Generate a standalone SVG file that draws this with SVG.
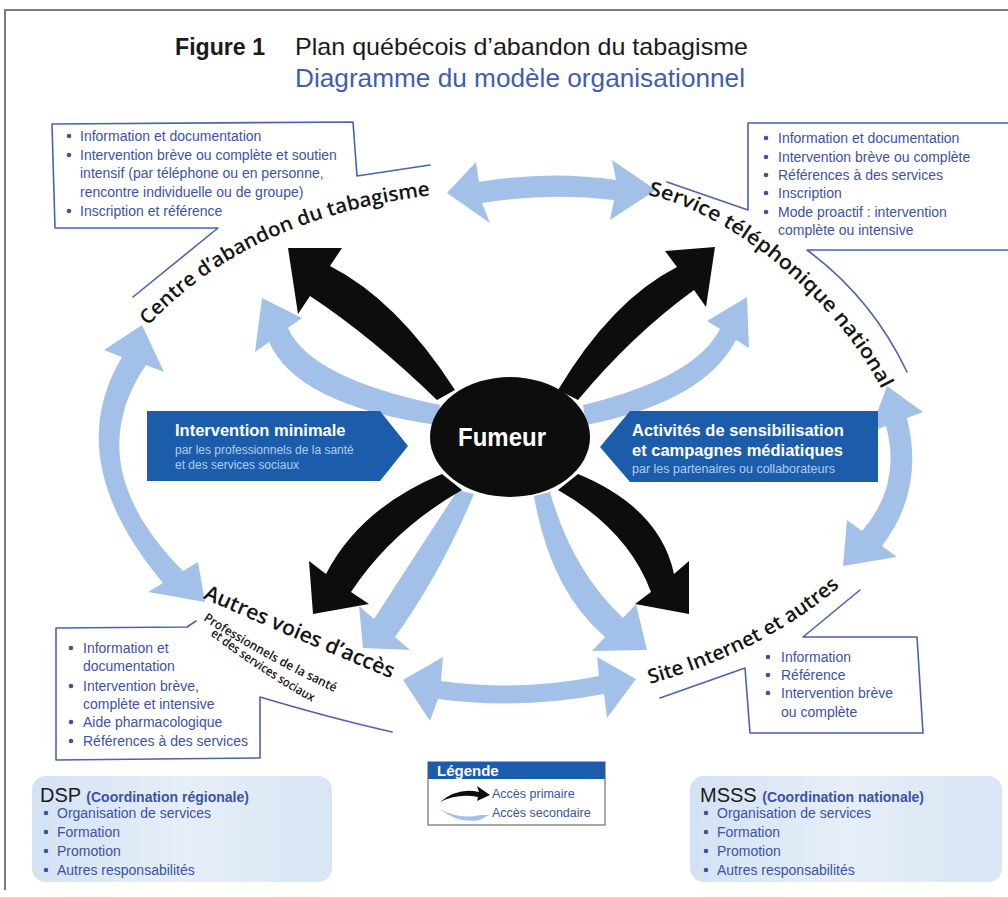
<svg xmlns="http://www.w3.org/2000/svg" width="1008" height="897" viewBox="0 0 1008 897">
<defs>
<style>
.frame{fill:none;stroke:#7a7a7a;stroke-width:2}
.sans{font-family:"Liberation Sans",Arial,sans-serif}
.lbl{font-family:"Open Sans","Liberation Sans",sans-serif;font-weight:600;fill:#141414}
.call{fill:none;stroke:#4b62ad;stroke-width:1.6;stroke-linejoin:round;stroke-linecap:round}
.prim{fill:#0d0d0d}
.sec{fill:#a3c1e8}
.pent{fill:#1b5cab}
.wt{fill:#ffffff;font-weight:bold}
.lt{fill:#b3cdf0}
.bul{font-family:"Liberation Sans",Arial,sans-serif;font-size:14px;fill:#3c52a3}
.dot{fill:#3c52a3}
</style>
<linearGradient id="panel" x1="0" y1="0" x2="1" y2="0">
<stop offset="0" stop-color="#d3e2f3"/>
<stop offset="0.5" stop-color="#e6eef8"/>
<stop offset="1" stop-color="#d8e5f4"/>
</linearGradient>
<path id="pTL" d="M148,326 Q250,215 442,194"/>
<path id="pTR" d="M648,195 C728,212 835,297 882,390"/>
<path id="pBL" d="M203,598 Q290,637 402,683"/>
<path id="pBL2" d="M203,620 Q275,666 352,700"/>
<path id="pBL3" d="M210,635 Q268,679 330,712"/>
<path id="pBR" d="M650,684 Q770,650 848,579"/>
</defs>

<rect x="0" y="0" width="1008" height="897" fill="#ffffff"/>
<path class="frame" d="M5,890 V10 H1008"/>

<g id="title" class="sans">
<text x="175" y="55" font-size="24" font-weight="bold" fill="#1a1a1a" textLength="90" lengthAdjust="spacingAndGlyphs">Figure 1</text>
<text x="295" y="55" font-size="24" fill="#1a1a1a" textLength="453" lengthAdjust="spacingAndGlyphs">Plan québécois d’abandon du tabagisme</text>
<text x="295" y="87" font-size="26" fill="#3d5fae" textLength="450" lengthAdjust="spacingAndGlyphs">Diagramme du modèle organisationnel</text>
</g>

<g id="connectors">
<!-- secondary (light) arrows -->
<path class="sec" d="M447,193 L476,162 L479,182 Q550,170 616,180 L612,160 L656,190 L610,220 L614,200 Q550,192 482,203 L490,223 Z"/>
<path class="sec" d="M403,680 L443,657 L441,681 Q520,692 599,676 L597,657 L636,679 L607,718 L604,694 Q520,710 438,699 L430,721 Z"/>
<path class="sec" d="M142,325 L164,372 L146,365 Q78,465 183,571 L198,562 L205,602 L148,592 L163,583 Q60,460 122,357 L104,350 Z"/>
<path class="sec" d="M887,386 L923,412 L907,418 Q925,490 882,546 L897,557 L843,566 L847,520 L862,531 Q902,485 886,426 L870,432 Z"/>
<path class="sec" d="M262,298 L302,318 L288,328 Q310,378 440,405 L437,425 Q297,405 269,342 L255,352 Z"/>
<path class="sec" d="M747,297 L749,348 L736,340 Q704,402 586,425 L583,405 Q695,378 720,329 L707,321 Z"/>
<path class="sec" d="M363,648 L359,606 L374,619 Q412,560 458,490 L474,494 Q440,575 395,637 L410,650 Z"/>
<path class="sec" d="M647,650 L592,651 L605,637 Q550,590 534,496 L550,492 Q572,570 623,618 L636,604 Z"/>
<!-- primary (black) arrows -->
<path class="prim" d="M288,248 L342,248 L330,266 Q397,300 455,390 L437,400 Q372,337 310,296 L298,314 Z"/>
<path class="prim" d="M715,247 L665,251 L677,267 Q612,300 558,390 L578,400 Q632,335 694,290 L706,307 Z"/>
<path class="prim" d="M313,614 L309,561 L326,574 Q360,508 442,474 L462,490 Q392,530 351,592 L369,604 Z"/>
<path class="prim" d="M689,614 L689,561 L674,574 Q660,508 578,474 L558,490 Q628,530 651,592 L635,604 Z"/>
</g>

<g id="fumeur">
<ellipse cx="510" cy="437" rx="80" ry="60" fill="#0d0d0d"/>
<text x="502" y="446" class="sans wt" font-size="26" text-anchor="middle" textLength="88" lengthAdjust="spacingAndGlyphs">Fumeur</text>
</g>

<g id="intervention-minimale">
<path class="pent" d="M147,411 L380,411 L408,446 L380,481 L147,481 Z"/>
<text x="175" y="436" class="sans wt" font-size="16.5">Intervention minimale</text>
<text x="175" y="454" class="sans lt" font-size="12">par les professionnels de la santé</text>
<text x="175" y="469" class="sans lt" font-size="12">et des services sociaux</text>
</g>

<g id="sensibilisation">
<path class="pent" d="M600,447 L630,411 L878,411 L878,482 L630,482 Z"/>
<text x="632" y="436" class="sans wt" font-size="16.5">Activités de sensibilisation</text>
<text x="632" y="456" class="sans wt" font-size="16.5">et campagnes médiatiques</text>
<text x="632" y="473" class="sans lt" font-size="12.5">par les partenaires ou collaborateurs</text>
</g>

<g id="centre-abandon">
<path class="call" d="M430,165 L357,176 L353,122 L52,124 L55,228 L218,228 L133,297"/>
<text class="lbl" font-size="20"><textPath href="#pTL" textLength="318" lengthAdjust="spacingAndGlyphs">Centre d’abandon du tabagisme</textPath></text>
<circle class="dot" cx="69" cy="136" r="2.3"/>
<circle class="dot" cx="69" cy="155" r="2.3"/>
<circle class="dot" cx="69" cy="211" r="2.3"/>
<text class="bul" x="80" y="141">Information et documentation</text>
<text class="bul" x="80" y="160">Intervention brève ou complète et soutien</text>
<text class="bul" x="80" y="178">intensif (par téléphone ou en personne,</text>
<text class="bul" x="80" y="197">rencontre individuelle ou de groupe)</text>
<text class="bul" x="80" y="216">Inscription et référence</text>
</g>

<g id="service-telephonique">
<path class="call" d="M667,182 L748,210 L748,123 L1008,123 M1008,250 L807,250 Q872,298 907,372"/>
<text class="lbl" font-size="20"><textPath href="#pTR" textLength="312" lengthAdjust="spacingAndGlyphs">Service téléphonique national</textPath></text>
<circle class="dot" cx="766" cy="138" r="2.3"/>
<circle class="dot" cx="766" cy="157" r="2.3"/>
<circle class="dot" cx="766" cy="175" r="2.3"/>
<circle class="dot" cx="766" cy="193" r="2.3"/>
<circle class="dot" cx="766" cy="212" r="2.3"/>
<text class="bul" x="778" y="143">Information et documentation</text>
<text class="bul" x="778" y="162">Intervention brève ou complète</text>
<text class="bul" x="778" y="180">Références à des services</text>
<text class="bul" x="778" y="198">Inscription</text>
<text class="bul" x="778" y="217">Mode proactif : intervention</text>
<text class="bul" x="778" y="235">complète ou intensive</text>
</g>

<g id="autres-voies">
<path class="call" d="M196,621 L187,627 L56,628 L56,760 L260,758 L260,697 Q330,718 392,732"/>
<text class="lbl" font-size="21"><textPath href="#pBL" textLength="205" lengthAdjust="spacingAndGlyphs">Autres voies d’accès</textPath></text>
<text class="lbl" font-size="12.5" font-weight="normal"><textPath href="#pBL2" textLength="150" lengthAdjust="spacingAndGlyphs">Professionnels de la santé</textPath></text>
<text class="lbl" font-size="12.5" font-weight="normal"><textPath href="#pBL3" textLength="122" lengthAdjust="spacingAndGlyphs">et des services sociaux</textPath></text>
<circle class="dot" cx="71" cy="648" r="2.3"/>
<circle class="dot" cx="71" cy="686" r="2.3"/>
<circle class="dot" cx="71" cy="722" r="2.3"/>
<circle class="dot" cx="71" cy="741" r="2.3"/>
<text class="bul" x="83" y="653" font-size="14.5">Information et</text>
<text class="bul" x="83" y="671" font-size="14.5">documentation</text>
<text class="bul" x="83" y="691" font-size="14.5">Intervention brève,</text>
<text class="bul" x="83" y="709" font-size="14.5">complète et intensive</text>
<text class="bul" x="83" y="727" font-size="14.5">Aide pharmacologique</text>
<text class="bul" x="83" y="746" font-size="14.5">Références à des services</text>
</g>

<g id="site-internet">
<path class="call" d="M860,590 L803,637 L917,637 L923,733 L750,733 L745,668 L660,698"/>
<text class="lbl" font-size="20"><textPath href="#pBR" textLength="215" lengthAdjust="spacingAndGlyphs">Site Internet et autres</textPath></text>
<circle class="dot" cx="768" cy="657" r="2.3"/>
<circle class="dot" cx="768" cy="675" r="2.3"/>
<circle class="dot" cx="768" cy="693" r="2.3"/>
<text class="bul" x="781" y="662" font-size="14.5">Information</text>
<text class="bul" x="781" y="680" font-size="14.5">Référence</text>
<text class="bul" x="781" y="698" font-size="14.5">Intervention brève</text>
<text class="bul" x="781" y="717" font-size="14.5">ou complète</text>
</g>

<g id="legende">
<rect x="428" y="762" width="177" height="63" fill="#ffffff" stroke="#555" stroke-width="1"/>
<rect x="428" y="762" width="177" height="17" class="pent"/>
<text x="437" y="776" class="sans wt" font-size="15">Légende</text>
<path class="prim" d="M440,802 Q458,787 479,792 L477,786 L490,795 L477,801 L478,797 Q458,793 440,802 Z"/>
<path class="sec" d="M440,809 Q460,820 480,815 L489,815 L480,820 Q458,824 440,809 Z"/>
<text x="492" y="798" class="sans" font-size="12.5" fill="#3c52a3">Accès primaire</text>
<text x="492" y="817" class="sans" font-size="12.5" fill="#3c52a3">Accès secondaire</text>
</g>

<g id="dsp">
<rect x="32" y="776" width="300" height="106" rx="14" fill="url(#panel)"/>
<text x="40" y="802" class="sans" font-size="20" fill="#1a1a1a">DSP <tspan font-size="14" font-weight="bold" fill="#3c52a3">(Coordination régionale)</tspan></text>
<circle class="dot" cx="46" cy="813" r="2.3"/>
<circle class="dot" cx="46" cy="832" r="2.3"/>
<circle class="dot" cx="46" cy="851" r="2.3"/>
<circle class="dot" cx="46" cy="870" r="2.3"/>
<text class="bul" x="57" y="818" font-size="15">Organisation de services</text>
<text class="bul" x="57" y="837" font-size="15">Formation</text>
<text class="bul" x="57" y="856" font-size="15">Promotion</text>
<text class="bul" x="57" y="875" font-size="15">Autres responsabilités</text>
</g>

<g id="msss">
<rect x="690" y="776" width="312" height="106" rx="14" fill="url(#panel)"/>
<text x="700" y="802" class="sans" font-size="20" fill="#1a1a1a">MSSS <tspan font-size="14" font-weight="bold" fill="#3c52a3">(Coordination nationale)</tspan></text>
<circle class="dot" cx="706" cy="813" r="2.3"/>
<circle class="dot" cx="706" cy="832" r="2.3"/>
<circle class="dot" cx="706" cy="851" r="2.3"/>
<circle class="dot" cx="706" cy="870" r="2.3"/>
<text class="bul" x="717" y="818" font-size="15">Organisation de services</text>
<text class="bul" x="717" y="837" font-size="15">Formation</text>
<text class="bul" x="717" y="856" font-size="15">Promotion</text>
<text class="bul" x="717" y="875" font-size="15">Autres responsabilités</text>
</g>
</svg>
